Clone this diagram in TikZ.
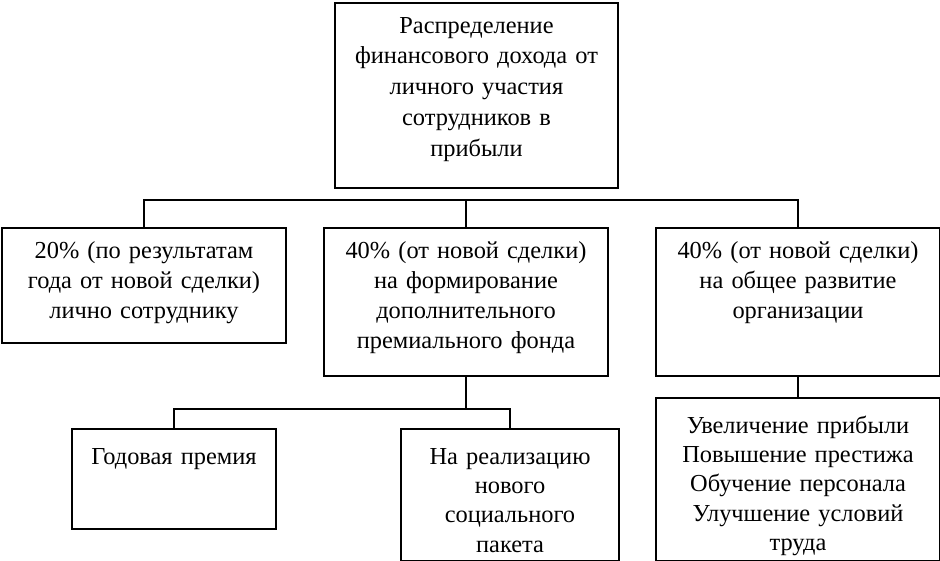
\documentclass[tikz,border=0pt]{standalone}
\usepackage{fontspec}
\setmainfont{Liberation Serif}
\usepackage{tikz}
\usetikzlibrary{positioning, calc}

\tikzset{
  box/.style={draw, line width=1.5pt, anchor=north west, inner sep=0pt, align=center,
    font=\fontsize{18.3}{22.5}\selectfont},
  link/.style={line width=1.3pt}
}

\begin{document}
\begin{tikzpicture}[x=0.75pt, y=-0.75pt]
  \useasboundingbox (0,0) rectangle (940,561);
  % Top box
  \node[box, text width=283*0.75pt, text height=30*0.75pt, text depth=155*0.75pt,
    font=\fontsize{18.3}{23.2}\selectfont] (top) at (334,2)
    {Распределение\\финансового дохода от\\личного участия\\сотрудников в\\прибыли};
  % Second row
  \node[box, text width=284*0.75pt, text height=30*0.75pt, text depth=85*0.75pt] (pers) at (1,227)
    {20\% (по результатам\\года от новой сделки)\\лично сотруднику};
  \node[box, text width=284*0.75pt, text height=30*0.75pt, text depth=118*0.75pt] (fund) at (323,227)
    {40\% (от новой сделки)\\на формирование\\дополнительного\\премиального фонда};
  \node[box, text width=284*0.75pt, text height=30*0.75pt, text depth=118*0.75pt] (org) at (655,227)
    {40\% (от новой сделки)\\на общее развитие\\организации};
  % Third row
  \node[box, text width=204*0.75pt, text height=35*0.75pt, text depth=65*0.75pt] (bonus) at (71,428)
    {Годовая премия};
  \node[box, text width=218*0.75pt, text height=35*0.75pt, text depth=97*0.75pt,
    font=\fontsize{18.3}{22}\selectfont] (social) at (400,428)
    {На реализацию\\нового\\социального\\пакета};
  \node[box, text width=284*0.75pt, text height=35*0.75pt, text depth=128*0.75pt,
    font=\fontsize{18.3}{22}\selectfont] (devel) at (655,397)
    {Увеличение прибыли\\Повышение престижа\\Обучение персонала\\Улучшение условий\\труда};
  % Connectors
  \coordinate (bus) at (465,200);
  \coordinate (subbus) at (465,409);
  \draw[link] (pers.north) |- (org.north |- bus) -- (org.north);
  \draw[link] (fund.north) -- (fund.north |- bus);
  \draw[link] (bonus.north) |- (social.north |- subbus) -- (social.north);
  \draw[link] (fund.south) -- (fund.south |- subbus);
  \draw[link] (org.south) -- (devel.north);
\end{tikzpicture}
\end{document}
